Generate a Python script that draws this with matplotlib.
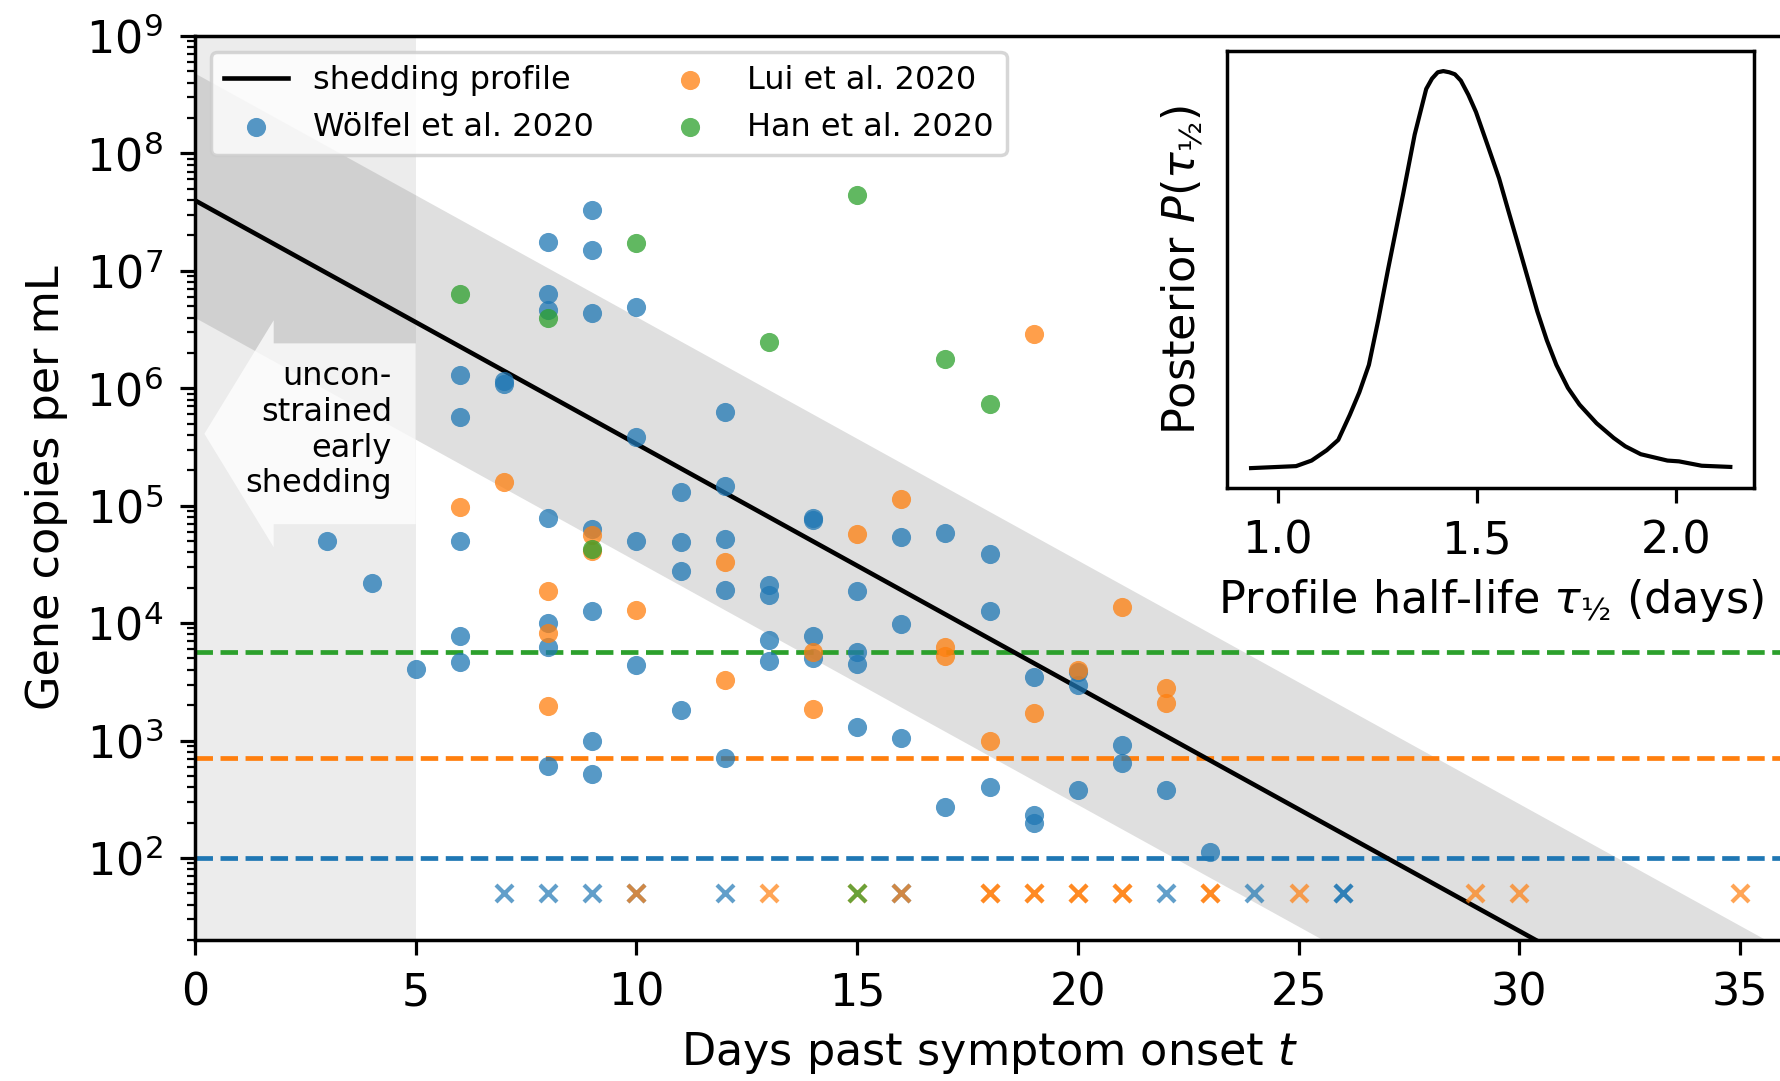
import matplotlib
matplotlib.use("Agg")
import matplotlib.pyplot as plt
from matplotlib.patches import FancyArrow
from matplotlib.ticker import NullFormatter

# shedding profile fit (copies/mL at day 0 and day 36) and its spread
profile_days = [0, 36]
profile_copies = [3.98e7, 1.36]
band_low = [3.98e6, 0.136]
band_high = [4.8e8, 16.4]

# detection limits per study
limit_woelfel = 100
limit_lui = 710
limit_han = 5700

# positive samples
woelfel_days = [3, 4, 5,
                6, 6, 6, 6, 6,
                7, 7,
                8, 8, 8, 8, 8, 8, 8,
                9, 9, 9, 9, 9, 9, 9,
                10, 10, 10, 10,
                11, 11, 11, 11,
                12, 12, 12, 12, 12,
                13, 13, 13, 13,
                14, 14, 14, 14,
                15, 15, 15, 15,
                16, 16, 16,
                17, 17,
                18, 18, 18,
                19, 19, 19,
                20, 20, 20,
                21, 21,
                22, 23]
woelfel_copies = [5.0e4, 2.2e4, 4.1e3,
                  1.3e6, 5.7e5, 5.0e4, 7.8e3, 4.7e3,
                  1.16e6, 1.09e6,
                  1.76e7, 6.4e6, 4.6e6, 7.8e4, 1.0e4, 6.2e3, 6.1e2,
                  3.3e7, 1.5e7, 4.4e6, 6.3e4, 1.28e4, 9.9e2, 5.2e2,
                  4.9e6, 3.85e5, 5.0e4, 4.4e3,
                  1.3e5, 4.9e4, 2.8e4, 1.82e3,
                  6.3e5, 1.48e5, 5.2e4, 1.9e4, 7.1e2,
                  2.1e4, 1.75e4, 7.2e3, 4.75e3,
                  7.9e4, 7.6e4, 7.7e3, 5.0e3,
                  1.86e4, 5.7e3, 4.5e3, 1.3e3,
                  5.4e4, 9.9e3, 1.05e3,
                  5.8e4, 2.7e2,
                  3.9e4, 1.28e4, 4.0e2,
                  3.5e3, 2.3e2, 2.0e2,
                  3.8e3, 2.95e3, 3.8e2,
                  9.1e2, 6.5e2,
                  3.8e2, 1.12e2]

lui_days = [6, 7, 8, 8, 8, 9, 9, 10, 12, 12, 14, 14, 15, 16,
            17, 17, 18, 19, 19, 20, 21, 22, 22]
lui_copies = [9.7e4, 1.6e5, 1.86e4, 8.2e3, 1.97e3, 5.6e4, 4.1e4, 1.3e4,
              3.3e4, 3.3e3, 5.7e3, 1.85e3, 5.7e4, 1.13e5,
              6.3e3, 5.2e3, 1.0e3, 2.9e6, 1.7e3, 4.0e3, 1.36e4, 2.8e3, 2.1e3]

han_days = [6, 8, 9, 10, 13, 15, 17, 18]
han_copies = [6.4e6, 4.0e6, 4.3e4, 1.72e7, 2.5e6, 4.4e7, 1.77e6, 7.4e5]

# negative samples, drawn at a fixed level below the detection lines
neg_level = 50
woelfel_neg_days = [7, 8, 9, 10, 12, 16, 22, 24, 26, 26]
lui_neg_days = [10, 13, 15, 16, 18, 18, 19, 19, 20, 20, 21, 21,
                23, 23, 25, 29, 30, 35]
han_neg_days = [15]

# posterior of the profile half-life (inset)
tau = [0.933, 1.046, 1.085, 1.123, 1.152, 1.181, 1.205, 1.229, 1.253, 1.277,
       1.315, 1.344, 1.373, 1.3875, 1.402, 1.416, 1.431, 1.445, 1.460, 1.479,
       1.498, 1.527, 1.556, 1.580, 1.604, 1.628, 1.652, 1.676, 1.700, 1.729,
       1.758, 1.801, 1.844, 1.873, 1.912, 1.979, 2.008, 2.065, 2.137]
posterior = [0.0, 0.005, 0.019, 0.045, 0.071, 0.134, 0.191, 0.26, 0.375, 0.50,
             0.69, 0.84, 0.955, 0.981, 0.997, 1.0, 0.997, 0.992, 0.976, 0.94,
             0.897, 0.814, 0.73, 0.646, 0.563, 0.479, 0.395, 0.322, 0.26, 0.202,
             0.16, 0.113, 0.076, 0.055, 0.035, 0.019, 0.017, 0.006, 0.003]

plt.rcParams["font.family"] = ["DejaVu Sans"]
plt.rcParams["font.size"] = 32
plt.rcParams["axes.linewidth"] = 2.5
for ax_name in ("xtick", "ytick"):
    plt.rcParams[ax_name + ".major.size"] = 11
    plt.rcParams[ax_name + ".major.width"] = 2.3
    plt.rcParams[ax_name + ".minor.size"] = 5.5
    plt.rcParams[ax_name + ".minor.width"] = 1.6
    plt.rcParams[ax_name + ".major.pad"] = 12

fig = plt.figure(figsize=(17.81, 10.81), dpi=100)
ax = fig.add_axes([0.1095, 0.1304, 0.8923, 0.8363])

ax.axvspan(0, 5, color="gray", alpha=0.15, lw=0, zorder=0)
ax.fill_between(profile_days, band_low, band_high, color="gray", alpha=0.25,
                lw=0, zorder=1)

arrow = FancyArrow(0.1389, 0.56, -0.133, 0, width=0.2, head_width=0.251,
                   head_length=0.0436, length_includes_head=True,
                   transform=ax.transAxes, facecolor="white",
                   edgecolor="none", alpha=0.75, zorder=1.5)
ax.add_patch(arrow)
ax.text(4.46, 4.4e5, "uncon-\nstrained\nearly\nshedding", fontsize=23,
        ha="right", va="center", multialignment="right", zorder=2)

ax.axhline(limit_han, color="C2", ls="--", lw=3.4, zorder=2)
ax.axhline(limit_lui, color="C1", ls="--", lw=3.4, zorder=2)
ax.axhline(limit_woelfel, color="C0", ls="--", lw=3.4, zorder=2)

prof, = ax.plot(profile_days, profile_copies, color="black", lw=3.3,
                zorder=3, label="shedding profile")

pt = dict(s=190, alpha=0.75, linewidths=0, zorder=4)
h_w = ax.scatter(woelfel_days, woelfel_copies, color="C0",
                 label="Wölfel et al. 2020", **pt)
h_l = ax.scatter(lui_days, lui_copies, color="C1", label="Lui et al. 2020", **pt)
h_h = ax.scatter(han_days, han_copies, color="C2", label="Han et al. 2020", **pt)

neg = dict(marker="x", s=150, linewidths=3, alpha=0.7, zorder=4)
ax.scatter(woelfel_neg_days, [neg_level] * len(woelfel_neg_days), color="C0", **neg)
ax.scatter(lui_neg_days, [neg_level] * len(lui_neg_days), color="C1", **neg)
ax.scatter(han_neg_days, [neg_level] * len(han_neg_days), color="C2", **neg)

ax.set_yscale("log")
ax.set_xlim(0, 36)
ax.set_ylim(20, 1e9)
ax.yaxis.set_minor_formatter(NullFormatter())
ax.set_xticks([0, 5, 10, 15, 20, 25, 30, 35])
ax.set_xlabel("Days past symptom onset $t$", labelpad=11)
ax.set_ylabel("Gene copies per mL", labelpad=13)
ax.spines["right"].set_visible(False)

leg = ax.legend(handles=[prof, h_w, h_l, h_h], loc="upper left", ncol=2,
                fontsize=23, columnspacing=2.0)
leg.get_frame().set_linewidth(2.5)

# inset: posterior of the half-life
ins = fig.add_axes([0.689, 0.5486, 0.296, 0.404])
ins.plot(tau, posterior, color="black", lw=3)
ins.set_yticks([])
ins.set_xticks([1.0, 1.5, 2.0])
ins.set_xlabel(r"Profile half-life $\tau_{½}$ (days)", labelpad=10)
ins.set_ylabel(r"Posterior $P(\tau_{½})$", labelpad=16)

fig.savefig("out.png", dpi=100)
